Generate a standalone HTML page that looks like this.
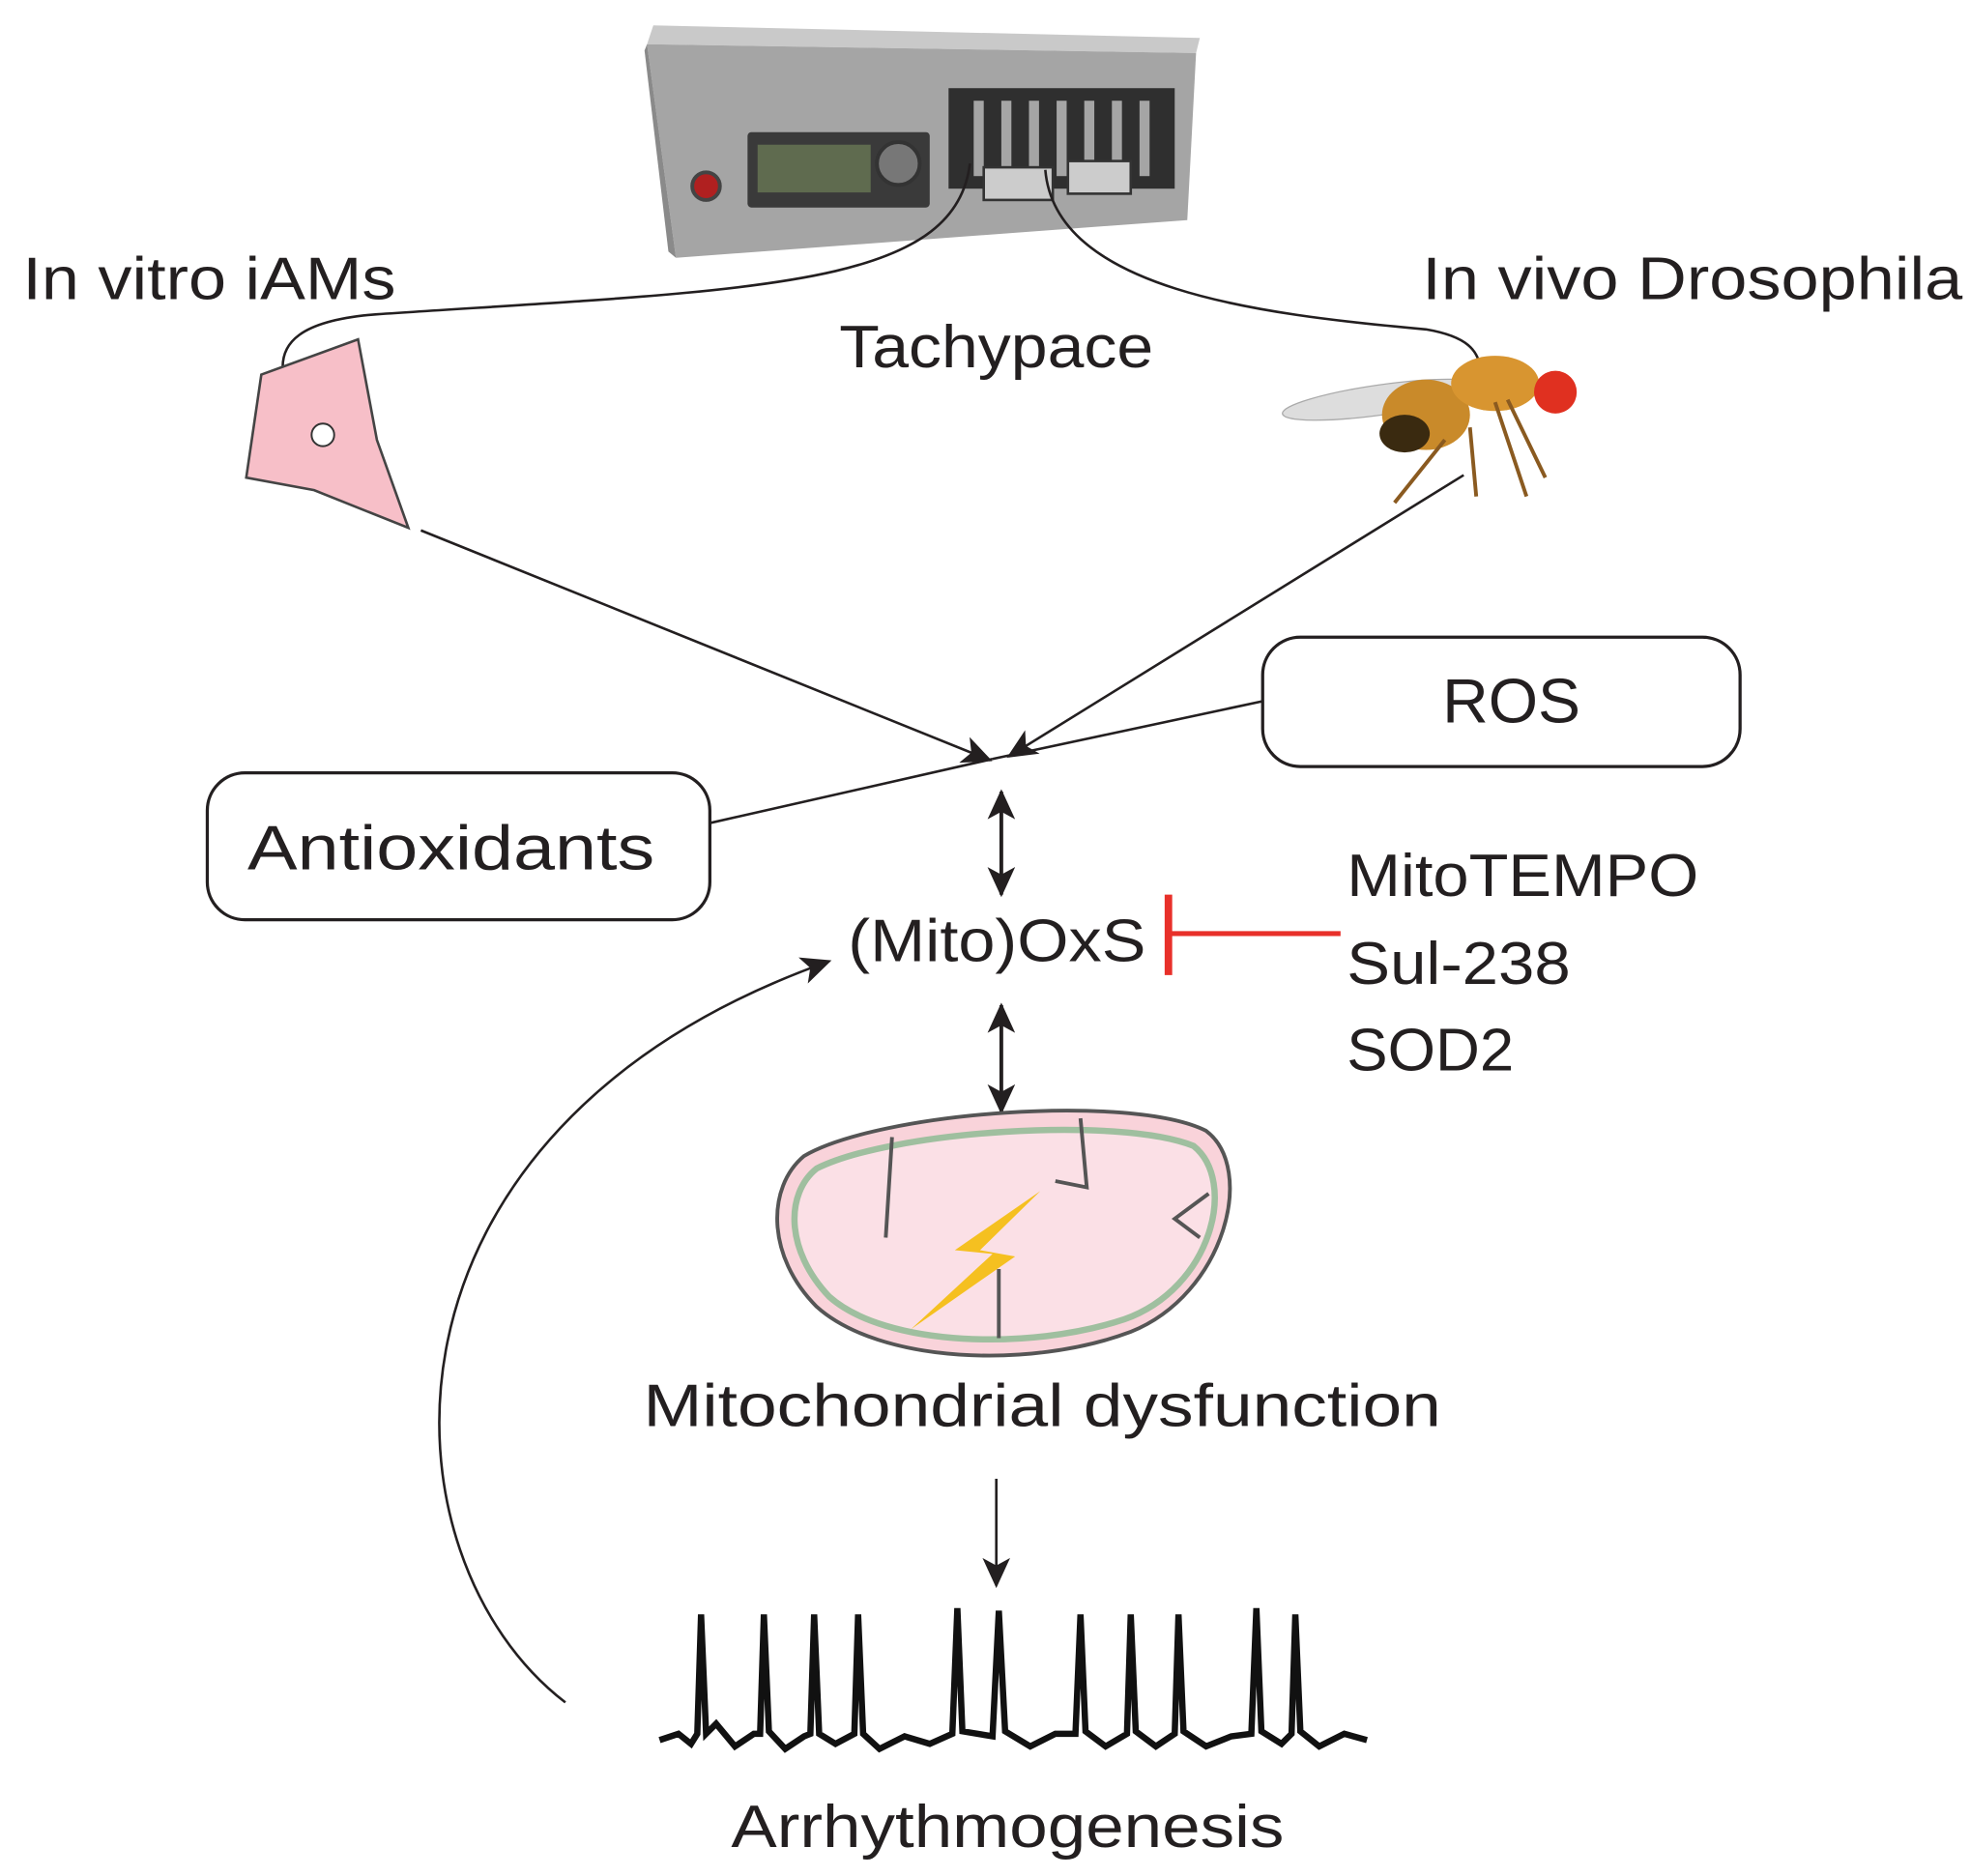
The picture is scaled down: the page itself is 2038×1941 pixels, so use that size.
<!DOCTYPE html>
<html><head><meta charset="utf-8"><style>
html,body{margin:0;padding:0;background:#fff;}
svg{display:block;}
text{font-family:"Liberation Sans",sans-serif;fill:#231f20;}
</style></head><body>
<svg width="2038" height="1941" viewBox="0 0 1568 1493" xmlns="http://www.w3.org/2000/svg">
<defs>
<marker id="ah2" markerWidth="26" markerHeight="22" refX="22" refY="11" orient="auto-start-reverse" markerUnits="userSpaceOnUse">
<path d="M0,0 L24,11 L0,22 L6,11 z" fill="#231f20"/></marker>
</defs>
<!-- device -->
<polygon points="520,20 955,30 952,42 515,35" fill="#c9c9c9"/>
<polygon points="515,35 952,42 945,175 538,205" fill="#a5a5a5"/>
<polygon points="515,35 538,205 532,200 513,40" fill="#8a8a8a"/>
<rect x="595" y="105" width="145" height="60" fill="#3a3a3a" rx="3"/>
<rect x="603" y="115" width="90" height="38" fill="#5f6b4f"/>
<circle cx="715" cy="130" r="17" fill="#777" stroke="#333" stroke-width="3"/>
<circle cx="562" cy="148" r="11" fill="#b02020" stroke="#444" stroke-width="3"/>
<rect x="755" y="70" width="180" height="80" fill="#2f2f2f"/>
<g fill="#a5a5a5">
<rect x="775" y="80" width="8" height="60"/><rect x="797" y="80" width="8" height="60"/><rect x="819" y="80" width="8" height="60"/><rect x="841" y="80" width="8" height="60"/><rect x="863" y="80" width="8" height="60"/><rect x="885" y="80" width="8" height="60"/><rect x="907" y="80" width="8" height="60"/></g>
<rect x="783" y="133" width="55" height="26" fill="#ccc" stroke="#333" stroke-width="2"/>
<rect x="850" y="128" width="50" height="26" fill="#ccc" stroke="#333" stroke-width="2"/>
<!-- wires -->
<path d="M772,130 C760,230 600,230 300,250 C235,255 225,275 225,292" fill="none" stroke="#231f20" stroke-width="2"/>
<path d="M832,135 C840,230 1000,250 1135,262 C1170,268 1175,280 1178,290" fill="none" stroke="#231f20" stroke-width="2"/>
<text x="18" y="238" font-size="48" textLength="297" lengthAdjust="spacingAndGlyphs">In vitro iAMs</text>
<text x="668" y="292" font-size="48" textLength="250" lengthAdjust="spacingAndGlyphs">Tachypace</text>
<text x="1132" y="238" font-size="48" textLength="430" lengthAdjust="spacingAndGlyphs">In vivo Drosophila</text>
<!-- cell -->
<polygon points="208,298 285,270 300,350 325,420 250,390 196,380" fill="#f7bfc8" stroke="#444" stroke-width="2"/>
<circle cx="257" cy="346" r="9" fill="#fff" stroke="#333" stroke-width="1.5"/>
<!-- fly -->
<ellipse cx="1100" cy="318" rx="80" ry="12" fill="#ddd" stroke="#aaa" transform="rotate(-8 1100 318)"/>
<ellipse cx="1135" cy="330" rx="35" ry="28" fill="#c98a2a"/>
<ellipse cx="1118" cy="345" rx="20" ry="15" fill="#3a2a10"/>
<ellipse cx="1190" cy="305" rx="35" ry="22" fill="#d89530"/>
<circle cx="1238" cy="312" r="17" fill="#e03020"/>
<path d="M1150,350 L1110,400 M1190,320 L1215,395 M1200,318 L1230,380 M1170,340 L1175,395" stroke="#8a5a20" stroke-width="3" fill="none"/>
<!-- lines -->
<line x1="335" y1="422" x2="788" y2="605" stroke="#231f20" stroke-width="2" marker-end="url(#ah2)"/>
<line x1="1165" y1="378" x2="803" y2="602" stroke="#231f20" stroke-width="2" marker-end="url(#ah2)"/>
<line x1="1005" y1="558" x2="790" y2="604" stroke="#231f20" stroke-width="2"/>
<line x1="565" y1="655" x2="790" y2="604" stroke="#231f20" stroke-width="2"/>
<rect x="1005" y="507" width="380" height="103" rx="30" fill="#fff" stroke="#231f20" stroke-width="2.5"/>
<text x="1148" y="575" font-size="50" textLength="110" lengthAdjust="spacingAndGlyphs">ROS</text>
<rect x="165" y="615" width="400" height="117" rx="30" fill="#fff" stroke="#231f20" stroke-width="2.5"/>
<text x="197" y="692" font-size="50" textLength="324" lengthAdjust="spacingAndGlyphs">Antioxidants</text>
<line x1="797" y1="630" x2="797" y2="712" stroke="#231f20" stroke-width="3" marker-start="url(#ah2)" marker-end="url(#ah2)"/>
<text x="675" y="765" font-size="48" textLength="237" lengthAdjust="spacingAndGlyphs">(Mito)OxS</text>
<line x1="930" y1="712" x2="930" y2="776" stroke="#e8302a" stroke-width="6"/>
<line x1="930" y1="743" x2="1067" y2="743" stroke="#e8302a" stroke-width="4"/>
<text x="1072" y="713" font-size="48" textLength="280" lengthAdjust="spacingAndGlyphs">MitoTEMPO</text>
<text x="1072" y="783" font-size="48" textLength="178" lengthAdjust="spacingAndGlyphs">Sul-238</text>
<text x="1072" y="852" font-size="48" textLength="133" lengthAdjust="spacingAndGlyphs">SOD2</text>
<line x1="797" y1="800" x2="797" y2="885" stroke="#231f20" stroke-width="3" marker-start="url(#ah2)" marker-end="url(#ah2)"/>
<!-- mitochondrion -->
<path d="M640,920 C700,885 900,870 960,900 C1000,930 975,1030 900,1060 C820,1090 700,1085 650,1040 C610,1000 610,945 640,920 z" fill="#f9d3da" stroke="#555" stroke-width="3"/>
<path d="M650,930 C710,900 890,888 950,912 C985,940 965,1025 895,1050 C820,1075 705,1072 660,1032 C625,995 625,950 650,930 z" fill="#fbe0e6" stroke="#9fbf9f" stroke-width="5"/>
<path d="M710,905 L705,985 M860,890 L865,945 L840,940 M795,1065 L795,1010 M962,950 L935,970 L955,985" stroke="#555" stroke-width="3" fill="none"/>
<polygon points="828,948 760,995 790,998 725,1058 808,1000 780,995" fill="#f5c020"/>
<text x="512" y="1135" font-size="48" textLength="635" lengthAdjust="spacingAndGlyphs">Mitochondrial dysfunction</text>
<line x1="793" y1="1177" x2="793" y2="1262" stroke="#231f20" stroke-width="2" marker-end="url(#ah2)"/>
<!-- ECG -->
<path d="M525,1385 L540,1380 L550,1388 L555,1380 L558,1285 L562,1380 L570,1372 L585,1390 L600,1380 L605,1380 L608,1285 L612,1378 L625,1392 L640,1382 L645,1380 L648,1285 L652,1380 L665,1388 L680,1380 L683,1285 L687,1380 L700,1392 L720,1382 L740,1388 L758,1380 L762,1280 L766,1378 L790,1382 L795,1282 L800,1378 L820,1390 L840,1380 L856,1380 L860,1285 L864,1378 L880,1390 L897,1380 L900,1285 L904,1378 L920,1390 L935,1380 L938,1285 L942,1378 L960,1390 L980,1382 L996,1380 L1000,1280 L1004,1378 L1020,1388 L1028,1380 L1031,1285 L1035,1378 L1050,1390 L1070,1380 L1088,1385" fill="none" stroke="#111" stroke-width="5"/>
<text x="582" y="1470" font-size="48" textLength="440" lengthAdjust="spacingAndGlyphs">Arrhythmogenesis</text>
<path d="M450,1355 C300,1240 280,900 660,765" fill="none" stroke="#231f20" stroke-width="2" marker-end="url(#ah2)"/>
</svg>
</body></html>
